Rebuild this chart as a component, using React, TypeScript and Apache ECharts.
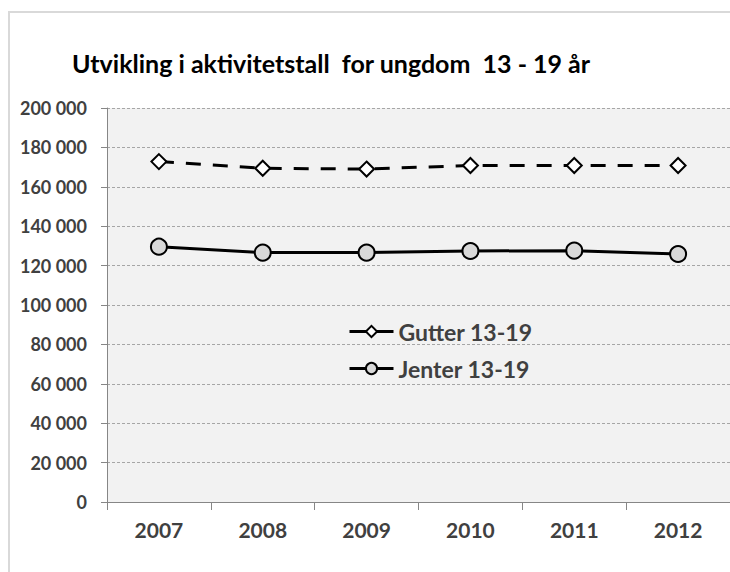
import React, { useEffect, useRef } from "react";
import * as echarts from "echarts";

const years = ["2007", "2008", "2009", "2010", "2011", "2012"];
const gutter = [172800, 169400, 169000, 170800, 170800, 170800];
const jenter = [129600, 126600, 126600, 127400, 127600, 125900];
const yTicks = [0, 20000, 40000, 60000, 80000, 100000, 120000, 140000, 160000, 180000, 200000];

const fmt = (v: number) => {
  const s = String(Math.round(v));
  return s.replace(/\B(?=(\d{3})+(?!\d))/g, " ");
};

export default function App() {
  const ref = useRef<HTMLDivElement>(null);
  useEffect(() => {
    if (!ref.current) return;
    const chart = echarts.init(ref.current, undefined, { renderer: "svg" });
    chart.setOption({
      animation: false,
      backgroundColor: "#ffffff",
      title: {
        text: "Utvikling i aktivitetstall  for ungdom  13 - 19 år",
        left: 67,
        top: 45,
        textStyle: { fontFamily: "Lato", fontWeight: "bold", fontSize: 25, color: "#000000" },
      },
      graphic: [
        {
          type: "rect",
          silent: true,
          shape: { x: 9, y: 12, width: 760, height: 620 },
          style: { fill: "none", stroke: "#d9d9d9", lineWidth: 2 },
          z: 100,
        },
      ],
      legend: {
        orient: "vertical",
        left: 343,
        top: 315,
        itemWidth: 44,
        itemHeight: 14,
        itemGap: 14,
        textStyle: { fontFamily: "Lato", fontWeight: "bold", fontSize: 23, color: "#404040" },
        data: [
          { name: "Gutter 13-19", lineStyle: { type: "solid", width: 3 } },
          { name: "Jenter 13-19", lineStyle: { type: "solid", width: 3 } },
        ],
      },
      grid: { left: 107, right: -2, top: 108, bottom: 70, backgroundColor: "#f2f2f2", show: true, borderWidth: 0 },
      xAxis: {
        type: "category",
        data: years,
        boundaryGap: true,
        axisLine: { lineStyle: { color: "#868686", width: 1 } },
        axisTick: { show: true, length: 8, lineStyle: { color: "#868686" } },
        axisLabel: { fontFamily: "Lato", fontWeight: "bold", fontSize: 21, color: "#404040", margin: 17 },
      },
      yAxis: {
        type: "value",
        min: 0,
        max: 200000,
        interval: 20000,
        axisLine: { show: true, lineStyle: { color: "#868686", width: 1 } },
        axisTick: { show: true, length: 6, lineStyle: { color: "#868686" } },
        splitLine: { lineStyle: { color: "#a6a6a6", type: [3, 2], width: 1 } },
        axisLabel: {
          fontFamily: "Lato",
          fontWeight: "bold",
          fontSize: 18,
          color: "#404040",
          margin: 20,
          formatter: (v: number) => (yTicks.includes(v) ? fmt(v) : ""),
        },
      },
      series: [
        {
          name: "Gutter 13-19",
          type: "line",
          data: gutter,
          symbol: "diamond",
          symbolSize: 15,
          lineStyle: { color: "#000000", width: 3, type: [15, 12] },
          itemStyle: { color: "#ffffff", borderColor: "#000000", borderWidth: 2 },
          z: 3,
        },
        {
          name: "Jenter 13-19",
          type: "line",
          data: jenter,
          symbol: "circle",
          symbolSize: 16,
          lineStyle: { color: "#000000", width: 3 },
          itemStyle: { color: "#d9d9d9", borderColor: "#000000", borderWidth: 2 },
          z: 3,
        },
      ],
    });
    return () => chart.dispose();
  }, []);
  return <div ref={ref} style={{ width: 730, height: 572, position: "absolute", left: 0, top: 0 }} />;
}
